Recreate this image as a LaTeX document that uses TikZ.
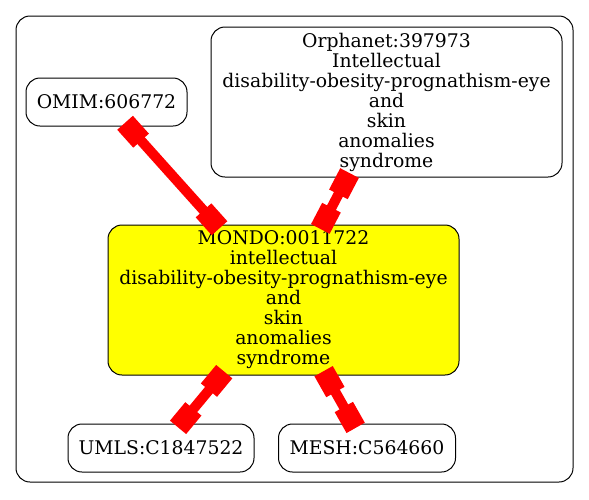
\documentclass[tikz,border=0pt]{standalone}
\usepackage{fontspec}
\setmainfont{DejaVu Serif}
\usetikzlibrary{arrows.meta}
\definecolor{gvred}{RGB}{255,0,0}
\definecolor{gvyellow}{RGB}{255,255,0}
\begin{document}
\begin{tikzpicture}[x=1pt,y=-1pt,
	every node/.style={draw,rounded corners=14pt,align=center,inner sep=0pt,line width=1pt,
		font=\fontsize{18.8}{20}\selectfont},
	link/.style={gvred,line width=10pt,shorten <=-5pt,shorten >=-5pt,
		arrows={Square[length=24pt,width=21pt]-Square[length=24pt,width=21pt]}}]
\useasboundingbox (0,0) rectangle (589,499);
\draw[line width=1pt,rounded corners=14pt] (16,16) rectangle (573,482);
\node[minimum width=161pt,minimum height=48pt] (omim) at (106.5,102) {OMIM:606772};
\node[minimum width=351pt,minimum height=150pt] (orpha) at (386.5,102)
	{Orphanet:397973\\Intellectual\\disability-obesity-prognathism-eye\\and\\skin\\anomalies\\syndrome};
\node[fill=gvyellow,minimum width=351pt,minimum height=150pt] (mondo) at (283.5,300)
	{MONDO:0011722\\intellectual\\disability-obesity-prognathism-eye\\and\\skin\\anomalies\\syndrome};
\node[minimum width=186pt,minimum height=48pt] (umls) at (161,448) {UMLS:C1847522};
\node[minimum width=177pt,minimum height=48pt] (mesh) at (367,448) {MESH:C564660};
\draw[link] (omim) -- (mondo);
\draw[link] (orpha) -- (mondo);
\draw[link] (mondo) -- (umls);
\draw[link] (mondo) -- (mesh);
\end{tikzpicture}
\end{document}
